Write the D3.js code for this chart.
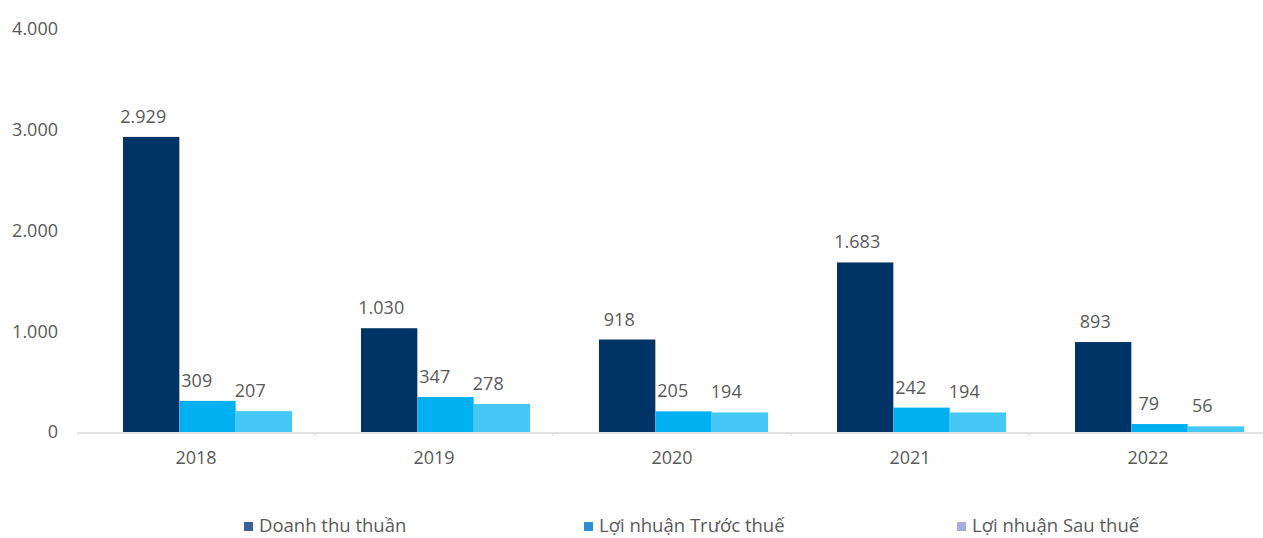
<!DOCTYPE html>
<html>
<head>
<meta charset="utf-8">
<script src="https://cdn.jsdelivr.net/npm/d3@7"></script>
<style>
  html, body { margin: 0; padding: 0; background: #fff; }
  svg { display: block; }
  text { font-family: "Open Sans", "Noto Sans", sans-serif; fill: #595959; }
</style>
</head>
<body>
<svg id="chart" width="1263" height="538"></svg>
<script>
// Kết quả kinh doanh 2018–2022 (tỷ đồng)
const years = ["2018", "2019", "2020", "2021", "2022"];
const seriesNames = ["Doanh thu thuần", "Lợi nhuận Trước thuế", "Lợi nhuận Sau thuế"];
const doanhThu = [2929, 1030, 918, 1683, 893];
const loiNhuanTruocThue = [309, 347, 205, 242, 79];
const loiNhuanSauThue = [207, 278, 194, 194, 56];
const yTicks = [0, 1000, 2000, 3000, 4000];

const barColors = ["#003466", "#00b0f0", "#45c8f5"];
const legendColors = ["#3a6296", "#2a8fd6", "#a7abe0"];

const values = [doanhThu, loiNhuanTruocThue, loiNhuanSauThue];
const rows = years.map((y, i) => ({
  year: y,
  vals: values.map((arr, s) => ({ s, v: arr[i] }))
}));

const fmt = v => d3.format(",")(v).replace(/,/g, ".");
const FONT = "'Open Sans', 'Noto Sans', sans-serif";

const svg = d3.select("#chart");

const x0 = d3.scaleBand().domain(years).range([77, 1267]).paddingInner(0).paddingOuter(0);
const x1 = d3.scaleBand().domain([0, 1, 2]).range([46, 215]).padding(0);
const xLab = d3.scaleBand().domain([0, 1, 2]).range([39.5, 200]).padding(0);
const y = d3.scaleLinear().domain([0, 4000]).range([432, 29]);

// Y axis labels
const yAxis = svg.append("g").attr("transform", "translate(58,0)")
  .call(d3.axisLeft(y).tickValues(yTicks).tickSize(0).tickPadding(0).tickFormat(fmt));
yAxis.select(".domain").remove();
yAxis.selectAll("text").attr("font-size", 18).attr("fill", "#595959")
  .attr("font-family", FONT);

// Category axis
const xAxis = svg.append("g").attr("transform", "translate(0,433)")
  .call(d3.axisBottom(x0).tickSize(0).tickPadding(18));
xAxis.select(".domain").attr("stroke", "#d9d9d9").attr("stroke-width", 1.5)
  .attr("d", "M77,0H1263");
xAxis.selectAll("text").attr("font-size", 18).attr("fill", "#595959")
  .attr("font-family", FONT);
// small separators between categories
xAxis.selectAll("line.sep")
  .data(years.slice(1))
  .join("line")
  .attr("class", "sep")
  .attr("x1", d => x0(d)).attr("x2", d => x0(d))
  .attr("y1", 0).attr("y2", 3)
  .attr("stroke", "#d9d9d9");

// Bars
const groups = svg.append("g").selectAll("g")
  .data(rows)
  .join("g")
  .attr("transform", d => `translate(${x0(d.year)},0)`);

groups.selectAll("rect")
  .data(d => d.vals)
  .join("rect")
  .attr("x", d => x1(d.s))
  .attr("width", x1.bandwidth())
  .attr("y", d => y(d.v))
  .attr("height", d => y(0) - y(d.v))
  .attr("fill", d => barColors[d.s]);

groups.selectAll("text.val")
  .data(d => d.vals)
  .join("text")
  .attr("class", "val")
  .attr("x", d => xLab(d.s) + xLab.bandwidth() / 2)
  .attr("y", d => y(d.v) - 14)
  .attr("text-anchor", "middle")
  .attr("font-size", 18)
  .text(d => fmt(d.v));

// Legend
const legendX = [244, 584, 957];
const legend = svg.append("g").selectAll("g")
  .data(seriesNames)
  .join("g")
  .attr("transform", (d, i) => `translate(${legendX[i]},0)`);
legend.append("rect")
  .attr("x", 0).attr("y", 522).attr("width", 9).attr("height", 9)
  .attr("fill", (d, i) => legendColors[i]);
legend.append("text")
  .attr("x", 15).attr("y", 532)
  .attr("font-size", 18.5)
  .text(d => d);
</script>
</body>
</html>
